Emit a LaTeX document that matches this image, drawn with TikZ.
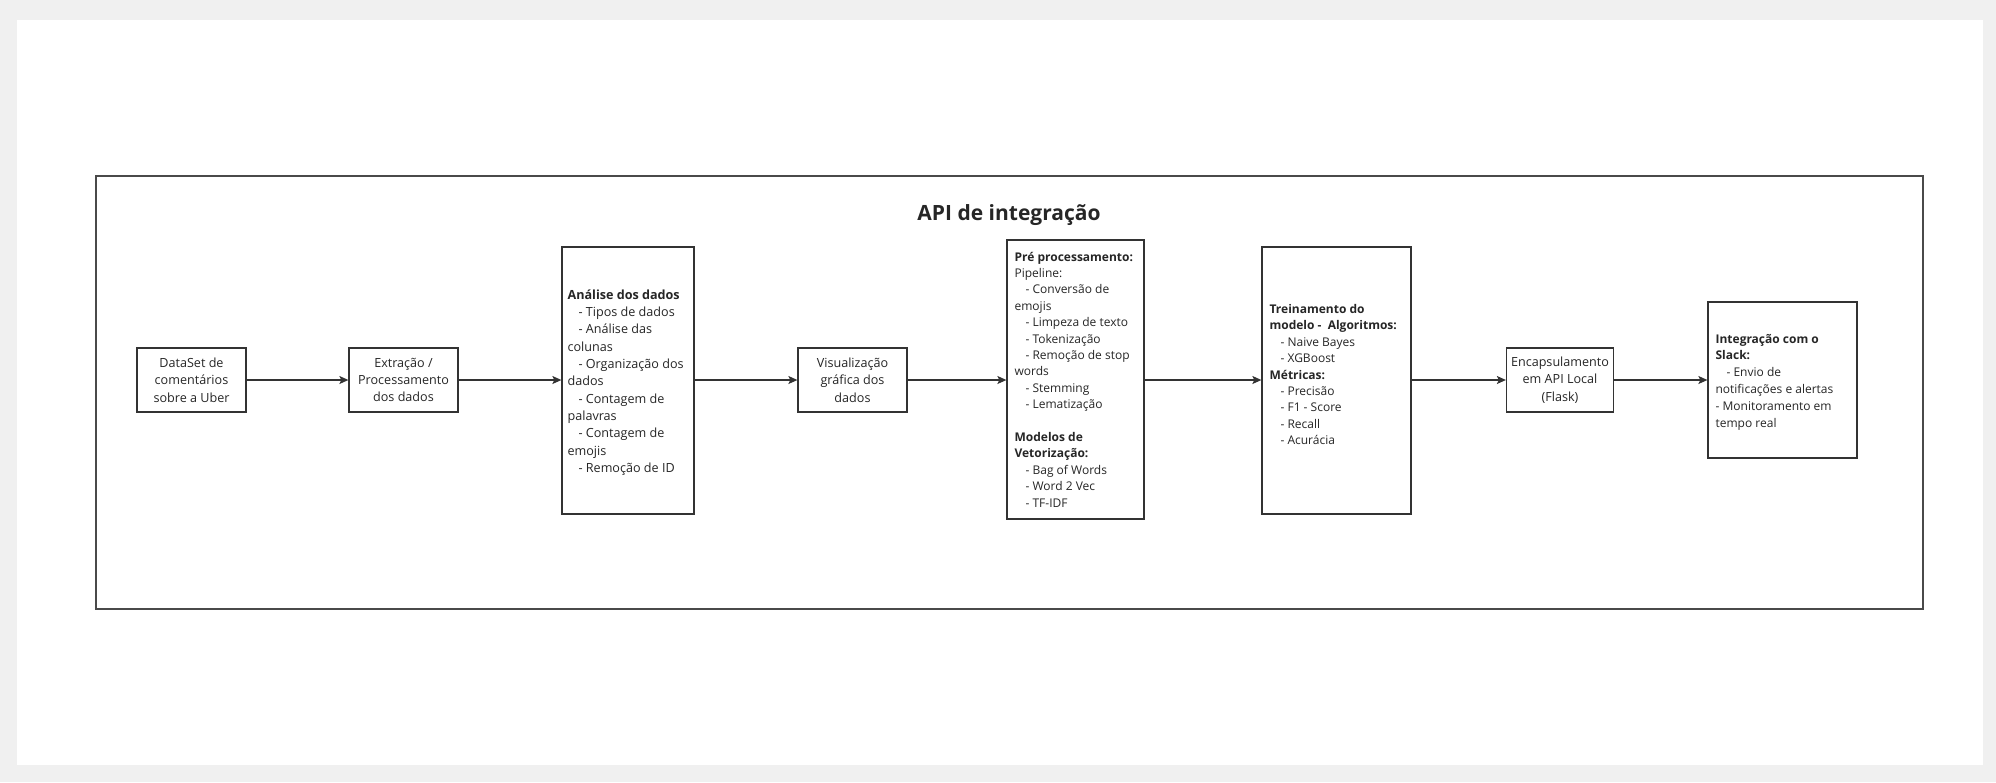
\documentclass[tikz,border=0pt]{standalone}
\usepackage{fontspec}
\setmainfont{Open Sans}
\usetikzlibrary{arrows.meta}
\definecolor{bggray}{HTML}{F0F0F0}
\definecolor{ink}{HTML}{262626}
\definecolor{edge}{HTML}{333333}
\definecolor{frame}{HTML}{4A4A4A}
\tikzset{
  box/.style={draw=edge, line width=1.25pt, inner sep=0pt, fill=white},
  bigtxt/.style={font=\fontsize{12.6}{17.3}\selectfont, text=ink},
  smalltxt/.style={font=\fontsize{12}{16.4}\selectfont, text=ink},
  flow/.style={draw=edge, line width=1.25pt, -{Stealth[length=9pt,width=8pt,inset=2pt]}},
}
\newcommand{\ind}{\hspace*{11pt}}
\begin{document}
\begin{tikzpicture}[x=1pt,y=-1pt]
\useasboundingbox (0,0) rectangle (1996,782);
\fill[bggray] (0,0) rectangle (1996,782);
\fill[white] (17,20) rectangle (1983,765);
\draw[frame, line width=1.4pt] (96,176) rectangle (1923,609);
\node[font=\fontsize{21}{25}\selectfont\bfseries, text=ink] (title) at (1009,215) {API de integração};

\node[box, bigtxt, minimum width=109pt, minimum height=64pt, align=center] (b1) at (191.5,380) {DataSet de\\comentários\\sobre a Uber};
\node[box, bigtxt, minimum width=109pt, minimum height=64pt, align=center] (b2) at (403.5,380) {Extração /\\Processamento\\dos dados};
\node[box, minimum width=132pt, minimum height=267pt] (b3) at (628,380.5) {};
\node[bigtxt, anchor=west, align=left, inner sep=0pt] (t3) at ([xshift=6pt,yshift=-2pt]b3.west) {\textbf{Análise dos dados}\\\ind- Tipos de dados\\\ind- Análise das\\colunas\\\ind- Organização dos\\dados\\\ind- Contagem de\\palavras\\\ind- Contagem de\\emojis\\\ind- Remoção de ID};
\node[box, bigtxt, minimum width=109pt, minimum height=64pt, align=center] (b4) at (852.5,380) {Visualização\\gráfica dos\\dados};
\node[box, minimum width=137pt, minimum height=279pt] (b5) at (1075.5,379.5) {};
\node[smalltxt, anchor=west, align=left, inner sep=0pt] (t5) at ([xshift=8pt]b5.west) {\textbf{Pré processamento:}\\Pipeline:\\\ind- Conversão de\\emojis\\\ind- Limpeza de texto\\\ind- Tokenização\\\ind- Remoção de stop\\words\\\ind- Stemming\\\ind- Lematização\\[16.4pt]\textbf{Modelos de}\\\textbf{Vetorização:}\\\ind- Bag of Words\\\ind- Word 2 Vec\\\ind- TF-IDF};
\node[box, minimum width=149pt, minimum height=267pt] (b6) at (1336.5,380.5) {};
\node[smalltxt, anchor=west, align=left, inner sep=0pt] (t6) at ([xshift=8pt,yshift=6pt]b6.west) {\textbf{Treinamento do}\\\textbf{modelo -\ \ Algoritmos:}\\\ind- Naive Bayes\\\ind- XGBoost\\\textbf{Métricas:}\\\ind- Precisão\\\ind- F1 - Score\\\ind- Recall\\\ind- Acurácia};
\node[box, bigtxt, minimum width=107pt, minimum height=64pt, align=center] (b7) at (1560,380) {Encapsulamento\\em API Local\\(Flask)};
\node[box, minimum width=149pt, minimum height=156pt] (b8) at (1782.5,380) {};
\node[font=\fontsize{12}{16.8}\selectfont, text=ink, anchor=west, align=left, inner sep=0pt] (t8) at ([xshift=8pt,yshift=-2pt]b8.west) {\textbf{Integração com o}\\\textbf{Slack:}\\\ind- Envio de\\notificações e alertas\\- Monitoramento em\\tempo real};

\draw[flow] (b1.east) -- (b2.west);
\draw[flow] (b2.east) -- (b3.west |- b2.east);
\draw[flow] (b3.east |- b2.east) -- (b4.west);
\draw[flow] (b4.east) -- (b5.west |- b4.east);
\draw[flow] (b5.east |- b4.east) -- (b6.west |- b4.east);
\draw[flow] (b6.east |- b7.west) -- (b7.west);
\draw[flow] (b7.east) -- (b8.west);
\end{tikzpicture}
\end{document}
